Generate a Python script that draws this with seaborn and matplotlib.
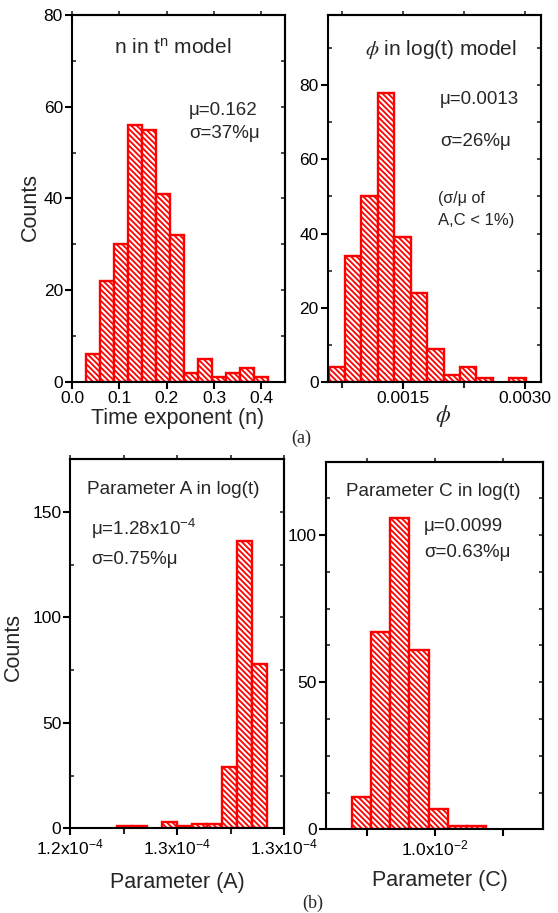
import numpy as np
import pandas as pd
import matplotlib
matplotlib.use('Agg')
import matplotlib.pyplot as plt
import seaborn as sns

sns.set_style('ticks')
plt.rcParams['font.family'] = ['Liberation Sans', 'DejaVu Sans']
plt.rcParams['mathtext.fontset'] = 'custom'
plt.rcParams['mathtext.rm'] = 'Liberation Sans'
plt.rcParams['mathtext.it'] = 'Liberation Sans:italic'
plt.rcParams['mathtext.default'] = 'regular'
plt.rcParams['hatch.color'] = 'red'
plt.rcParams['hatch.linewidth'] = 1.3

# ---------------- data ----------------
n_counts = [6, 22, 30, 56, 55, 41, 32, 2, 5, 1, 2, 3, 1]
n_bin_start, n_bin_width = 0.0293, 0.0296

phi_counts = [4, 34, 50, 78, 39, 24, 9, 2, 4, 1, 0, 1]
phi_bin_start, phi_bin_width = 0.00058, 0.000203

A_counts = [1, 1, 0, 3, 1, 2, 2, 29, 136, 78]
A_bin_start, A_bin_width = 1.2217e-4, 7.02e-7

C_counts = [11, 67, 106, 61, 7, 1, 1]
C_bin_start, C_bin_width = 0.009757, 5.63e-5

n_xticks = [0.0, 0.1, 0.2, 0.3, 0.4]
n_xticklabels = ['0.0', '0.1', '0.2', '0.3', '0.4']
phi_xticks = [0.0015, 0.0030]
phi_xticklabels = ['0.0015', '0.0030']
A_xticks = [1.2e-4, 1.25e-4, 1.3e-4]
A_xticklabels = ['1.2x10$^{-4}$', '1.3x10$^{-4}$', '1.3x10$^{-4}$']
C_xticks = [0.0098, 0.0100, 0.0102]
C_xticklabels = ['', '1.0x10$^{-2}$', '']

RED = '#ff0000'
HATCH = '\\\\\\\\\\\\'

fig = plt.figure(figsize=(5.58, 9.13), dpi=100)
ax_tl = fig.add_axes([0.129, 0.5816, 0.3817, 0.402])
ax_tr = fig.add_axes([0.5873, 0.5816, 0.3817, 0.402])
ax_bl = fig.add_axes([0.126, 0.0928, 0.383, 0.4042])
ax_br = fig.add_axes([0.5842, 0.0917, 0.3894, 0.4026])


def hist(ax, counts, start, width):
    counts = np.asarray(counts, dtype=float)
    edges = start + width * np.arange(len(counts) + 1)
    centers = (edges[:-1] + edges[1:]) / 2
    df = pd.DataFrame({'x': centers, 'w': counts})
    sns.histplot(data=df, x='x', weights='w', bins=[float(e) for e in edges],
                 ax=ax, stat='count', element='bars', fill=True, color=RED,
                 linewidth=1.7, zorder=1)
    for p in ax.patches:
        p.set_facecolor('white')
        p.set_edgecolor(RED)
        p.set_hatch(HATCH)
        p.set_alpha(1)
        if p.get_height() == 0:
            p.set_visible(False)


def style(ax, xlim, ylim, xticks, xlabels, xminor, yticks, yminor, ymirror):
    ax.set_xlim(*xlim)
    ax.set_ylim(*ylim)
    ax.set_xticks(xticks)
    ax.set_xticklabels(xlabels)
    ax.set_xticks(xminor, minor=True)
    ax.set_yticks(yticks)
    ax.set_yticks(yminor, minor=True)
    for s in ax.spines.values():
        s.set_linewidth(1.5)
        s.set_color('black')
    ax.tick_params(axis='both', which='major', direction='out', length=5,
                   width=1.5, labelsize=12.5, colors='black', pad=1.5)
    ax.tick_params(axis='x', which='minor', direction='out', length=4, width=1.5)
    ax.tick_params(axis='y', which='minor', direction='in', length=3, width=1.2)
    sx = ax.secondary_xaxis('top')
    sx.set_xticks(sorted(list(xticks) + list(xminor)))
    sx.tick_params(axis='x', direction='out', length=3, width=1.2, labeltop=False)
    sx.spines['top'].set_linewidth(1.5)
    sy = ax.secondary_yaxis('right')
    sy.set_yticks(ymirror)
    sy.tick_params(axis='y', direction='in', length=3, width=1.2, labelright=False)
    sy.spines['right'].set_linewidth(1.5)
    ax.set_xlabel('')
    ax.set_ylabel('')


# ---- top left ----
hist(ax_tl, n_counts, n_bin_start, n_bin_width)
style(ax_tl, (0, 0.45), (0, 80), n_xticks, n_xticklabels, [],
      [0, 20, 40, 60, 80], [10, 30, 50, 70], list(range(0, 81, 10)))
ax_tl.set_xlabel('Time exponent (n)', fontsize=15.5, va='center')
ax_tl.xaxis.set_label_coords(0.498, -0.099)
ax_tl.set_ylabel('Counts', fontsize=15.5, va='center')
ax_tl.yaxis.set_label_coords(-0.197, 0.477)
ax_tl.text(0.474, 0.910, 'n in t$^{n}$ model', transform=ax_tl.transAxes,
           ha='center', va='center', fontsize=15)
ax_tl.text(0.549, 0.741, 'μ=0.162', transform=ax_tl.transAxes,
           ha='left', va='center', fontsize=13.5)
ax_tl.text(0.549, 0.676, 'σ=37%μ', transform=ax_tl.transAxes,
           ha='left', va='center', fontsize=13.5)

# ---- top right ----
hist(ax_tr, phi_counts, phi_bin_start, phi_bin_width)
style(ax_tr, (0.00057, 0.0032), (0, 98.9), phi_xticks, phi_xticklabels,
      [0.00075, 0.00225], [0, 20, 40, 60, 80], [10, 30, 50, 70, 90],
      list(range(0, 91, 10)))
ax_tr.set_xlabel(r'$\mathit{\phi}$', fontsize=17, va='center',
                 math_fontfamily='stix')
ax_tr.xaxis.set_label_coords(0.540, -0.092)
ax_tr.text(0.531, 0.905, r'$\mathit{\phi}$ in log(t) model',
           transform=ax_tr.transAxes, ha='center', va='center',
           fontsize=15, math_fontfamily='stix')
ax_tr.text(0.527, 0.771, 'μ=0.0013', transform=ax_tr.transAxes,
           ha='left', va='center', fontsize=13.5)
ax_tr.text(0.527, 0.654, 'σ=26%μ', transform=ax_tr.transAxes,
           ha='left', va='center', fontsize=13.5)
ax_tr.text(0.519, 0.499, '(σ/μ of', transform=ax_tr.transAxes,
           ha='left', va='center', fontsize=11.5)
ax_tr.text(0.519, 0.441, 'A,C < 1%)', transform=ax_tr.transAxes,
           ha='left', va='center', fontsize=12)

# ---- bottom left ----
hist(ax_bl, A_counts, A_bin_start, A_bin_width)
style(ax_bl, (1.2e-4, 1.3e-4), (0, 175), A_xticks, A_xticklabels,
      [1.225e-4, 1.275e-4], [0, 50, 100, 150], [25, 75, 125],
      [0, 25, 50, 75, 100, 125, 150, 175])
ax_bl.set_xlabel('Parameter (A)', fontsize=15.5, va='center')
ax_bl.xaxis.set_label_coords(0.499, -0.146)
ax_bl.set_ylabel('Counts', fontsize=15.5, va='center')
ax_bl.yaxis.set_label_coords(-0.266, 0.492)
ax_bl.text(0.078, 0.917, 'Parameter A in log(t)', transform=ax_bl.transAxes,
           ha='left', va='center', fontsize=13.7)
ax_bl.text(0.097, 0.811, 'μ=1.28x10$^{-4}$', transform=ax_bl.transAxes,
           ha='left', va='center', fontsize=13.5)
ax_bl.text(0.097, 0.727, 'σ=0.75%μ', transform=ax_bl.transAxes,
           ha='left', va='center', fontsize=13.5)

# ---- bottom right ----
hist(ax_br, C_counts, C_bin_start, C_bin_width)
style(ax_br, (0.00968, 0.01032), (0, 125), C_xticks, C_xticklabels, [],
      [0, 50, 100], [12.5, 25, 37.5, 62.5, 75, 87.5, 112.5],
      [0, 12.5, 25, 37.5, 50, 62.5, 75, 87.5, 100, 112.5, 125])
ax_br.set_xlabel('Parameter (C)', fontsize=15.5, va='center')
ax_br.xaxis.set_label_coords(0.525, -0.138)
ax_br.text(0.092, 0.918, 'Parameter C in log(t)', transform=ax_br.transAxes,
           ha='left', va='center', fontsize=13.6)
ax_br.text(0.451, 0.823, 'μ=0.0099', transform=ax_br.transAxes,
           ha='left', va='center', fontsize=13.5)
ax_br.text(0.451, 0.752, 'σ=0.63%μ', transform=ax_br.transAxes,
           ha='left', va='center', fontsize=13.5)

fig.text(0.540, 0.520, '(a)', ha='center', va='center', fontsize=13,
         family='Liberation Serif')
fig.text(0.560, 0.011, '(b)', ha='center', va='center', fontsize=13,
         family='Liberation Serif')

fig.savefig('out.png', dpi=100)
